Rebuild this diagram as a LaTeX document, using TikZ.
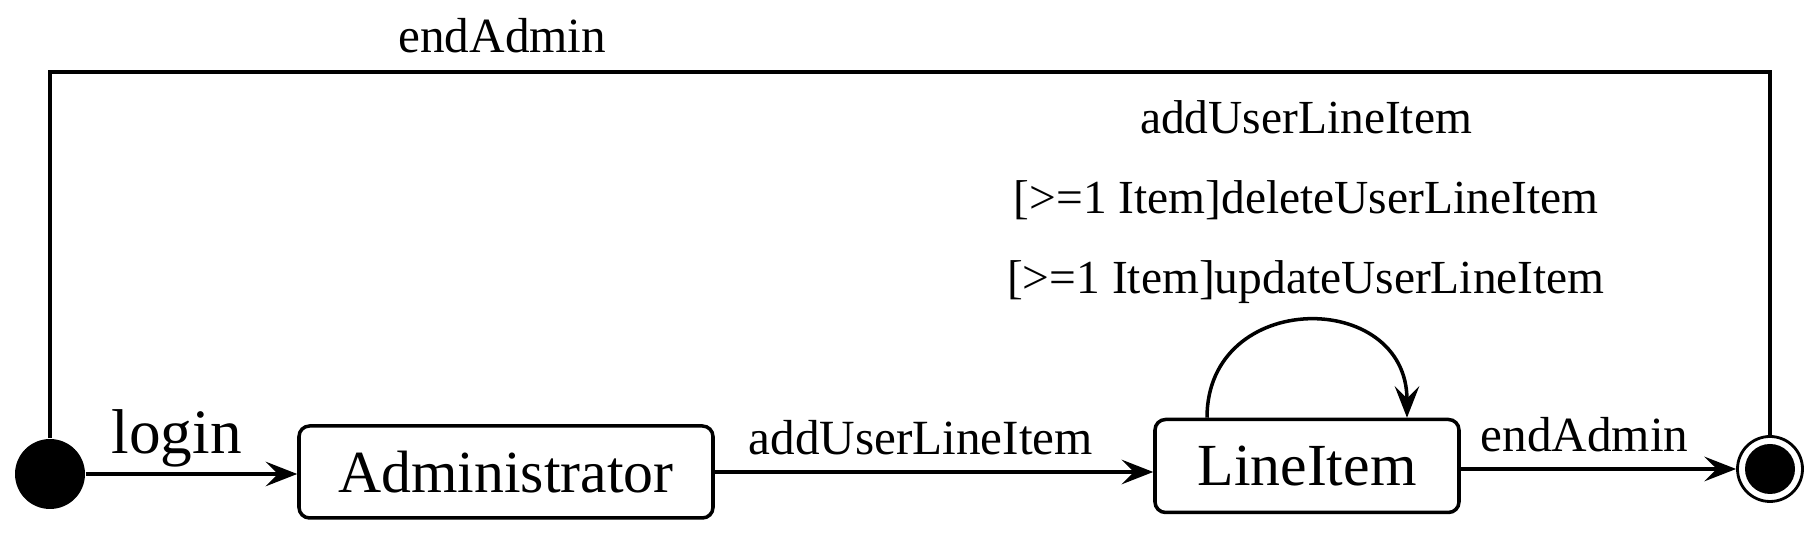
\documentclass[tikz,border=0pt]{standalone}
\usepackage{fontspec}
\setmainfont{Liberation Serif}
\usetikzlibrary{arrows.meta, positioning, calc}

\begin{document}
\begin{tikzpicture}[>={Stealth[length=9pt, width=7pt, inset=3.5pt]},
    state/.style={draw, rounded corners=3pt, line width=1pt, inner sep=0pt, font=\fontsize{17}{20}\selectfont},
    lbl/.style={font=\fontsize{14}{17}\selectfont},
    trans/.style={->, line width=1pt}]
    \useasboundingbox (0,0) rectangle (18.2,5.46);

    % states
    \node[circle, fill, inner sep=0pt, minimum size=0.70cm] (init) at (0.50, 0.72) {};
    \node[state, minimum width=4.14cm, minimum height=0.92cm] (admin) at (5.06, 0.74) {Administrator};
    \node[state, minimum width=3.04cm, minimum height=0.93cm] (lineitem) at (13.07, 0.80) {LineItem};
    \node[circle, draw, line width=0.8pt, inner sep=0pt, minimum size=0.65cm,
          path picture={\fill (path picture bounding box.center) circle (0.25);}] (final) at (17.70, 0.77) {};

    % transitions
    \draw[trans] (init.east) -- (init.east -| admin.west)
        node[pos=0.43, above=-2pt, font=\fontsize{18}{21}\selectfont] {login};
    \draw[trans] (admin.east) -- (admin.east -| lineitem.west)
        node[lbl, pos=0.47, above=1pt] {addUserLineItem};
    \draw[trans] (lineitem.east |- final) -- (final.west)
        node[lbl, pos=0.45, above=1pt] {endAdmin};
    \draw[trans] ([xshift=-1.0cm]lineitem.north) .. controls +(0,1.29) and +(0,1.29) .. ([xshift=1.0cm]lineitem.north);
    \node[align=center, font=\fontsize{13.5}{16}\selectfont, execute at begin node=\setlength{\baselineskip}{0.8cm}] (looplbl) at (13.06, 3.44)
        {addUserLineItem\\{}[>=1 Item]deleteUserLineItem\\{}[>=1 Item]updateUserLineItem};

    % back to the end
    \coordinate (topL) at (0.50, 4.74);
    \draw[line width=1pt] (init.north) -- (topL) -- (topL -| final) -- (final.north);
    \path (topL) -- (topL -| final) node[lbl, pos=0.263, above=2pt] {endAdmin};
\end{tikzpicture}
\end{document}
